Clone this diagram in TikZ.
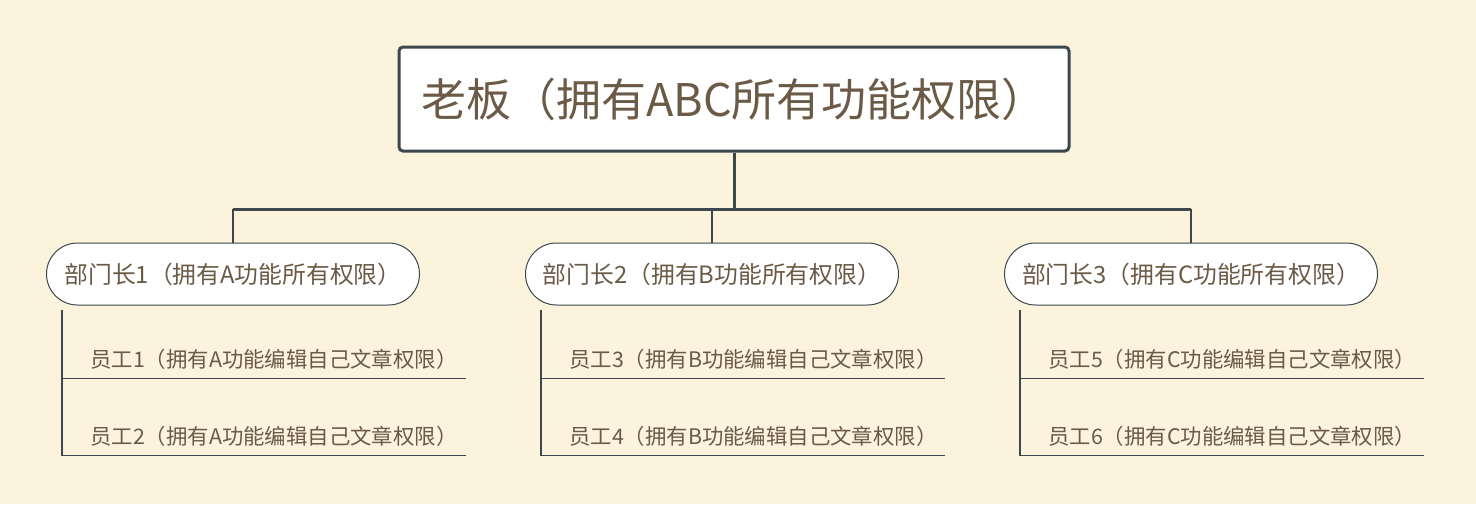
\documentclass[tikz,border=0pt]{standalone}
\usepackage{fontspec}
\setmainfont{Noto Sans CJK SC}
\usetikzlibrary{calc}
\definecolor{sfondo}{HTML}{FBF3DC}
\definecolor{linea}{HTML}{3D474E}
\definecolor{testo}{HTML}{6B5A46}
\begin{document}
\begin{tikzpicture}[x=1pt,y=-1pt,
    capo/.style={draw=linea, line width=3pt, fill=white, rounded corners=4pt,
        minimum width=670pt, minimum height=104pt, inner sep=0pt,
        text=testo, font=\fontsize{45}{54}\selectfont},
    reparto/.style={draw=linea, line width=1pt, fill=white, rounded corners=31pt,
        minimum width=373pt, minimum height=62pt, inner sep=0pt,
        text=testo, font=\fontsize{23.8}{28}\selectfont},
    dipendente/.style={anchor=base west, inner sep=0pt,
        text=testo, font=\fontsize{21.4}{26}\selectfont},
    ramo/.style={draw=linea, line width=3pt},
    goccia/.style={draw=linea, line width=2pt},
    foglia/.style={draw=linea, line width=1.5pt}]

    % Sfondo e dimensioni della pagina
    \fill[sfondo] (0,0) rectangle (1476,504);

    % Nodo principale
    \node[capo] (capo) at (734,99) {老板（拥有ABC所有功能权限）};

    % Nodi dei reparti
    \node[reparto] (r1) at (233,274) {部门长1（拥有A功能所有权限）};
    \node[reparto] (r2) at (712,274) {部门长2（拥有B功能所有权限）};
    \node[reparto] (r3) at (1191,274) {部门长3（拥有C功能所有权限）};

    % Tronco e barra orizzontale
    \coordinate (giunto) at (capo.south |- 0,209);
    \draw[ramo] (capo.south) -- (giunto);
    \draw[ramo] (r1.north |- giunto) -- (r3.north |- giunto);
    \foreach \i in {1,2,3}
        \draw[goccia] (r\i.north |- giunto) -- (r\i.north);

    % Dipendenti sotto ogni reparto
    \foreach \i/\l/\a/\b in {1/A/1/2, 2/B/3/4, 3/C/5/6}{
        \node[dipendente] (e\a) at ($(r\i.south west)+(44,62)$) {员工\a{}（拥有\l{}功能编辑自己文章权限）};
        \node[dipendente] (e\b) at ($(r\i.south west)+(44,139)$) {员工\b{}（拥有\l{}功能编辑自己文章权限）};
        \coordinate (s\a) at ($(e\a.base west)+(-28,11)$);
        \coordinate (s\b) at ($(e\b.base west)+(-28,11)$);
        \draw[foglia] (s\a) -- ++(404,0);
        \draw[foglia] (s\b) -- ++(404,0);
        \draw[foglia] ($(r\i.south west)+(16,4)$) -- (s\b);
    }

\end{tikzpicture}
\end{document}
